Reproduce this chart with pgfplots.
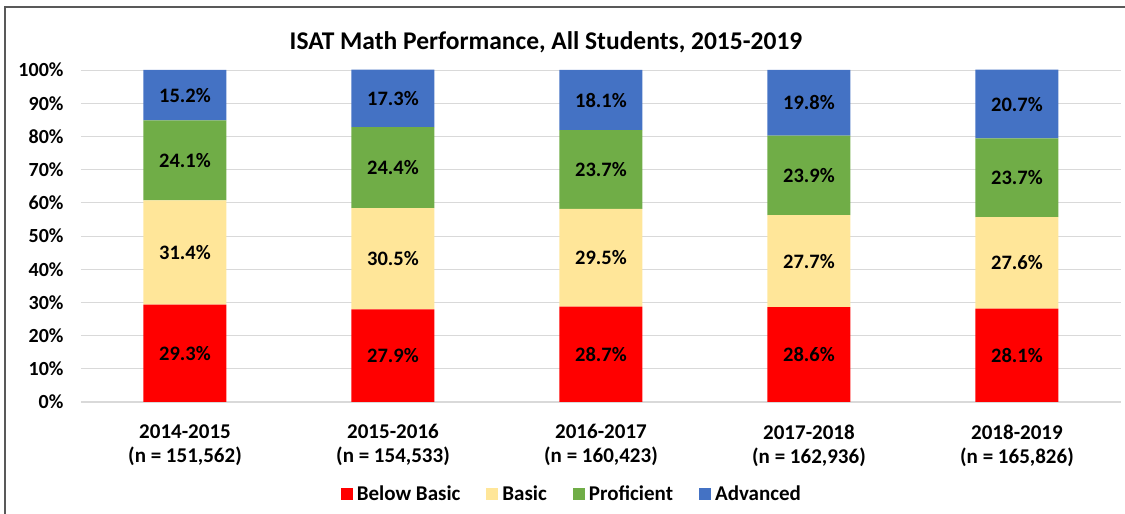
\documentclass[border=0pt]{standalone}
\usepackage{pgfplots}
\pgfplotsset{compat=1.18}
\usepackage{fontspec}
\setmainfont{Carlito}
\definecolor{cBelow}{HTML}{FF0000}
\definecolor{cBasic}{HTML}{FFE699}
\definecolor{cProf}{HTML}{70AD47}
\definecolor{cAdv}{HTML}{4472C4}
\definecolor{cGrid}{HTML}{D9D9D9}
\definecolor{cFrame}{HTML}{595959}
\begin{document}
\begin{tikzpicture}
\path[use as bounding box] (0,0) rectangle (1125pt,514pt);
\draw[cFrame,line width=1.3pt] (5pt,0pt) -- (5pt,507pt) -- (1125pt,507pt);
\node[font=\fontsize{25.5}{30}\selectfont\bfseries] at (546pt,472pt) {ISAT Math Performance, All Students, 2015-2019};
\begin{axis}[
  at={(81pt,112pt)}, anchor=south west,
  width=1040pt, height=332pt, scale only axis,
  ybar stacked, bar width=83pt,
  xmin=-0.5, xmax=4.5, ymin=0, ymax=100,
  xtick={0,1,2,3,4},
  xticklabels={{2014-2015\\(n = 151,562)},{2015-2016\\(n = 154,533)},{2016-2017\\(n = 160,423)},{2017-2018\\(n = 162,936)},{2018-2019\\(n = 165,826)}},
  x tick label style={align=center, font=\fontsize{21}{24}\selectfont\bfseries, yshift=-19pt},
  ytick={0,10,...,100},
  yticklabel={\pgfmathprintnumber{\tick}\%},
  y tick label style={font=\fontsize{20}{24}\selectfont\bfseries, xshift=-14pt},
  /pgf/number format/assume math mode=true,
  ymajorgrids, grid style={cGrid, line width=0.8pt},
  axis line style={draw=none},
  major tick length=0pt,
  clip=false,
  nodes near coords={\pgfmathprintnumber[fixed,fixed zerofill,precision=1]{\pgfplotspointmeta}\%},
  every node near coord/.append style={font=\fontsize{20.5}{24}\selectfont\bfseries, anchor=center},
  legend style={at={(0.473,-0.277)}, anchor=center, draw=none, legend columns=4, font=\fontsize{21}{24}\selectfont\bfseries, /tikz/every even column/.append style={column sep=22pt}, nodes={inner xsep=4pt}},
  legend image code/.code={\fill[#1] (0pt,-6pt) rectangle (12pt,6pt);},
]
\addplot[fill=cBelow, draw=none] coordinates {(0,29.3) (1,27.9) (2,28.7) (3,28.6) (4,28.1)};
\addplot[fill=cBasic, draw=none] coordinates {(0,31.4) (1,30.5) (2,29.5) (3,27.7) (4,27.6)};
\addplot[fill=cProf, draw=none] coordinates {(0,24.1) (1,24.4) (2,23.7) (3,23.9) (4,23.7)};
\addplot[fill=cAdv, draw=none] coordinates {(0,15.2) (1,17.3) (2,18.1) (3,19.8) (4,20.7)};
\legend{Below Basic, Basic, Proficient, Advanced}
\draw[cGrid, line width=1pt] (axis cs:-0.5,0) -- (axis cs:4.5,0);
\end{axis}
\end{tikzpicture}
\end{document}
